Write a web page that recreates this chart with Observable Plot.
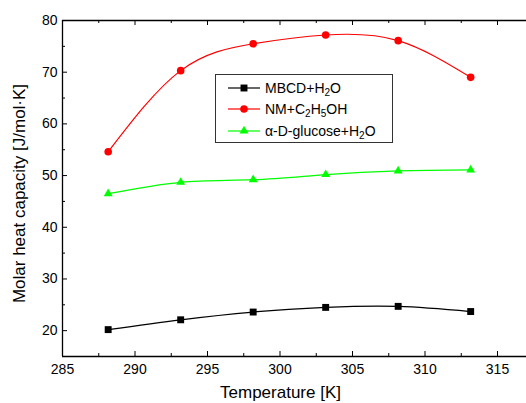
<!DOCTYPE html>
<html><head><meta charset="utf-8">
<script src="https://cdn.jsdelivr.net/npm/d3@7"></script>
<script src="https://cdn.jsdelivr.net/npm/@observablehq/plot@0.6"></script>
<style>
body{margin:0;background:#fff;font-family:"Liberation Sans",Arial,sans-serif;}
#wrap{position:relative;width:526px;height:403px;overflow:hidden;}
#legend{position:absolute;left:215px;top:74px;width:178px;height:69px;border:1px solid #333;box-sizing:border-box;background:#fff;}
.row{position:absolute;left:0;height:22px;display:flex;align-items:center;font-size:14px;color:#000;white-space:nowrap;}
.row svg{margin-left:12px;margin-right:5px;}
sub{font-size:10px;vertical-align:-3px;line-height:0;}
</style></head>
<body><div id="wrap"><div id="chart"></div><div id="legend"></div></div>
<script>
const temps = [288.15, 293.15, 298.15, 303.15, 308.15, 313.15];
const mbcd = [20.2, 22.1, 23.6, 24.5, 24.7, 23.7];
const nm = [54.6, 70.3, 75.5, 77.2, 76.1, 69.0];
const glucose = [46.5, 48.7, 49.2, 50.2, 50.9, 51.1];
const seriesNames = ["MBCD+H2O", "NM+C2H5OH", "α-D-glucose+H2O"];
const seriesLabels = ["MBCD+H<sub>2</sub>O", "NM+C<sub>2</sub>H<sub>5</sub>OH", "α-D-glucose+H<sub>2</sub>O"];
const seriesValues = [mbcd, nm, glucose];
const seriesColors = ["#000000", "#ff0000", "#00ff00"];
const seriesSymbols = ["square", "circle", "triangle"];
const seriesR = [3.9, 3.8, 3.3];
const xTicks = [285, 290, 295, 300, 305, 310, 315];
const xMinor = [287.5, 292.5, 297.5, 302.5, 307.5, 312.5];
const yTicks = [20, 30, 40, 50, 60, 70, 80];
const yMinor = [25, 35, 45, 55, 65, 75];
const xTitle = "Temperature [K]";
const yTitle = "Molar heat capacity [J/mol·K]";

const W = 526, H = 403, mL = 62, mR = 0, mT = 20, mB = 47;
const innerW = W - mL - mR, innerH = H - mT - mB;

const marks = [];
seriesNames.forEach((name, i) => {
  const rows = temps.map((t, j) => ({T: t, Cp: seriesValues[i][j], series: name}));
  marks.push(Plot.line(rows, {x: "T", y: "Cp", stroke: seriesColors[i], strokeWidth: 1.2, curve: "natural"}));
  marks.push(Plot.dot(rows, {x: "T", y: "Cp", fill: seriesColors[i], symbol: seriesSymbols[i], r: seriesR[i]}));
});

const chart = Plot.plot({
  width: W, height: H,
  marginLeft: mL, marginRight: mR, marginTop: mT, marginBottom: mB,
  style: {fontFamily: "'Liberation Sans', Arial, sans-serif", fontSize: "14px", background: "#fff", color: "#000"},
  x: {domain: [285, 317]},
  y: {domain: [15, 80]},
  marks: [
    Plot.ruleX([285], {stroke: "#000", strokeWidth: 1.3}),
    Plot.ruleY([15, 80], {stroke: "#000", strokeWidth: 1.3}),
    Plot.tickX(xTicks, {x: d => d, insetTop: innerH - 5, stroke: "#000"}),
    Plot.tickX(xTicks, {x: d => d, insetBottom: innerH - 5, stroke: "#000"}),
    Plot.tickX(xMinor, {x: d => d, insetTop: innerH - 3, stroke: "#000"}),
    Plot.tickX(xMinor, {x: d => d, insetBottom: innerH - 3, stroke: "#000"}),
    Plot.tickY(yTicks, {y: d => d, insetRight: innerW - 5, stroke: "#000"}),
    Plot.tickY(yMinor, {y: d => d, insetRight: innerW - 3, stroke: "#000"}),
    Plot.axisX({ticks: xTicks, tickSize: 0, tickPadding: 8, label: null, fontSize: 14}),
    Plot.axisY({ticks: yTicks, tickSize: 0, tickPadding: 5, label: null, fontSize: 14}),
    Plot.text([xTitle], {text: d => d, frameAnchor: "bottom", dx: -14, dy: 36, fontSize: 17, lineAnchor: "middle"}),
    Plot.text([yTitle], {text: d => d, frameAnchor: "left", textAnchor: "middle", rotate: -90, dx: -43, dy: 5, fontSize: 17, lineAnchor: "middle"}),
    ...marks
  ]
});
document.getElementById("chart").appendChild(chart);

const legend = document.getElementById("legend");
seriesNames.forEach((name, i) => {
  const row = document.createElement("div");
  row.className = "row";
  row.style.top = (1.5 + i * 21.7) + "px";
  const sym = d3.symbol().type({square: d3.symbolSquare, circle: d3.symbolCircle, triangle: d3.symbolTriangle}[seriesSymbols[i]]).size(Math.PI * seriesR[i] * seriesR[i])();
  row.innerHTML = `<svg width="32" height="12"><line x1="0" x2="32" y1="6" y2="6" stroke="${seriesColors[i]}" stroke-width="1.2"/><path transform="translate(16,6)" d="${sym}" fill="${seriesColors[i]}"/></svg><span>${seriesLabels[i]}</span>`;
  legend.appendChild(row);
});
</script>
</body></html>
